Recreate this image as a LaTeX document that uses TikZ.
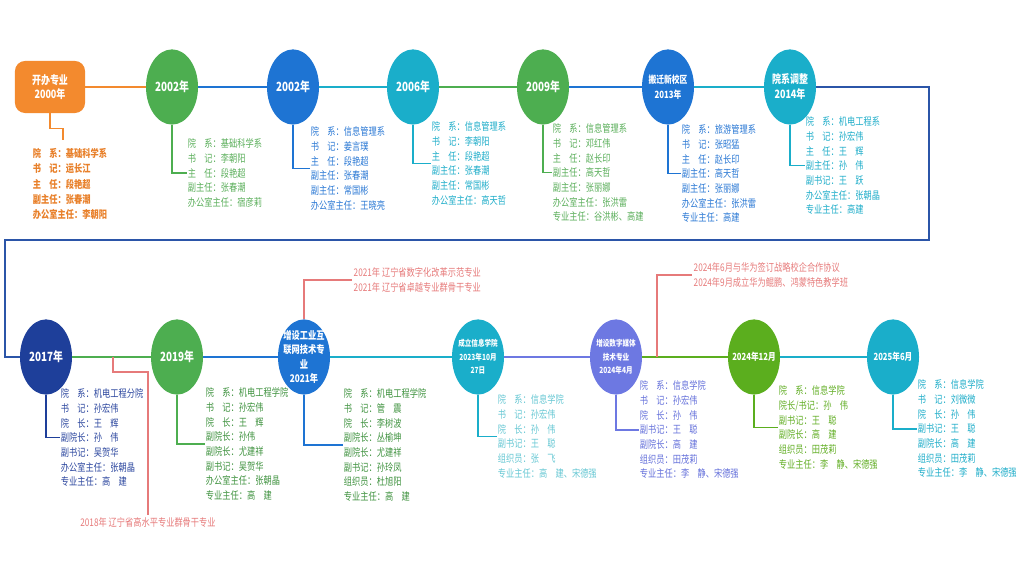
\documentclass[tikz,border=0pt]{standalone}
\usepackage{fontspec}
\setmainfont{Noto Sans CJK SC}[FakeStretch=0.78]
\usetikzlibrary{shapes.geometric}
\definecolor{orng}{HTML}{F38A2E}
\definecolor{grn}{HTML}{4DAE50}
\definecolor{blu}{HTML}{1E74D3}
\definecolor{cyn}{HTML}{1AAECA}
\definecolor{nvy}{HTML}{1E3F9A}
\definecolor{frm}{HTML}{2B55A8}
\definecolor{prp}{HTML}{6D78E2}
\definecolor{lim}{HTML}{5BAE1E}
\definecolor{rd}{HTML}{E67A7A}
\definecolor{orngtxt}{HTML}{E8802A}
\definecolor{grntxt}{HTML}{5AAE5A}
\definecolor{dgrntxt}{HTML}{3F923F}
\definecolor{blutxt}{HTML}{2A78D4}
\definecolor{cyntxt}{HTML}{1FADC9}
\definecolor{lcyntxt}{HTML}{66C7D3}
\definecolor{nvytxt}{HTML}{2B469E}
\definecolor{prptxt}{HTML}{6470DA}
\definecolor{limtxt}{HTML}{62AE25}

\begin{document}
\begin{tikzpicture}[x=0.025cm, y=-0.025cm,
    yearnode/.style={ellipse, fill=#1, minimum width=1.3cm, minimum height=1.88cm, inner sep=-4pt,
        text=white, align=center, font=\fontsize{9}{11}\selectfont\bfseries},
    infotext/.style={anchor=north west, inner sep=0.5pt, align=left, text=#1,
        font=\fontsize{7.5}{10.4}\selectfont},
    tline/.style={line width=1.5pt, draw=#1},
    elbow/.style={line width=1pt, draw=#1},
    remark/.style={text=rd, align=left, inner sep=1pt, font=\fontsize{7.5}{10.4}\selectfont}]
    \useasboundingbox (0,0) rectangle (1024,576);

    \node[fill=orng, rounded corners=0.25cm, minimum width=1.75cm, minimum height=1.3cm, inner sep=0pt,
        text=white, align=center, font=\fontsize{8.2}{10}\selectfont\bfseries] (kb) at (50,87) {开办专业\\2000年};
    \node[yearnode=grn] (e02a) at (172,87) {2002年};
    \node[yearnode=blu] (e02b) at (293,87) {2002年};
    \node[yearnode=cyn] (e06) at (413,87) {2006年};
    \node[yearnode=grn] (e09) at (543,87) {2009年};
    \node[yearnode=blu, font=\fontsize{7.1}{10.6}\selectfont\bfseries] (e13) at (668,87) {搬迁新校区\\2013年};
    \node[yearnode=cyn, font=\fontsize{8.2}{10.6}\selectfont\bfseries] (e14) at (790,87) {院系调整\\2014年};

    \node[yearnode=nvy] (e17) at (46,357) {2017年};
    \node[yearnode=grn] (e19) at (177,357) {2019年};
    \node[yearnode=blu, font=\fontsize{7.5}{10}\selectfont\bfseries] (e21) at (304,357) {增设工业互\\联网技术专\\业\\2021年};
    \node[yearnode=cyn, font=\fontsize{6}{9.5}\selectfont\bfseries] (e23) at (478,357) {成立信息学院\\2023年10月\\27日};
    \node[yearnode=prp, font=\fontsize{6}{9.5}\selectfont\bfseries] (e24a) at (616,357) {增设数字媒体\\技术专业\\2024年4月};
    \node[yearnode=lim, font=\fontsize{7}{9}\selectfont\bfseries] (e24b) at (754,357) {2024年12月};
    \node[yearnode=cyn, font=\fontsize{7}{9}\selectfont\bfseries] (e25) at (893,357) {2025年6月};

    \node[infotext=orngtxt, font=\fontsize{7.5}{11}\selectfont\bfseries] (t00) at (32,147)
        {院　系：基础科学系\\书　记：运长江\\主　任：段艳超\\副主任：张春潮\\办公室主任：李朝阳};
    \node[infotext=grntxt] (t02a) at (187,138)
        {院　系：基础科学系\\书　记：李朝阳\\主　任：段艳超\\副主任：张春潮\\办公室主任：宿彦莉};
    \node[infotext=blutxt] (t02b) at (310,126)
        {院　系：信息管理系\\书　记：姜言璞\\主　任：段艳超\\副主任：张春潮\\副主任：常国彬\\办公室主任：王晓亮};
    \node[infotext=cyntxt] (t06) at (431,121)
        {院　系：信息管理系\\书　记：李朝阳\\主　任：段艳超\\副主任：张春潮\\副主任：常国彬\\办公室主任：高天哲};
    \node[infotext=grntxt] (t09) at (552,123)
        {院　系：信息管理系\\书　记：邓红伟\\主　任：赵长印\\副主任：高天哲\\副主任：张丽娜\\办公室主任：张洪雷\\专业主任：谷洪彬、高建};
    \node[infotext=blutxt] (t13) at (681,124)
        {院　系：旅游管理系\\书　记：张昭猛\\主　任：赵长印\\副主任：高天哲\\副主任：张丽娜\\办公室主任：张洪雷\\专业主任：高建};
    \node[infotext=cyntxt] (t14) at (805,116)
        {院　系：机电工程系\\书　记：孙宏伟\\主　任：王　辉\\副主任：孙　伟\\副书记：王　跃\\办公室主任：张朝晶\\专业主任：高建};

    \node[infotext=nvytxt] (t17) at (60,388)
        {院　系：机电工程分院\\书　记：孙宏伟\\院　长：王　辉\\副院长：孙　伟\\副书记：吴贺华\\办公室主任：张朝晶\\专业主任：高　建};
    \node[infotext=dgrntxt] (t19) at (205,387)
        {院　系：机电工程学院\\书　记：孙宏伟\\院　长：王　辉\\副院长：孙伟\\副院长：尤建祥\\副书记：吴贺华\\办公室主任：张朝晶\\专业主任：高　建};
    \node[infotext=dgrntxt] (t21) at (343,388)
        {院　系：机电工程学院\\书　记：管　震\\院　长：李树波\\副院长：丛榆坤\\副院长：尤建祥\\副书记：孙玲凤\\组织员：杜旭阳\\专业主任：高　建};
    \node[infotext=lcyntxt] (t23) at (497,394)
        {院　系：信息学院\\书　记：孙宏伟\\院　长：孙　伟\\副书记：王　聪\\组织员：张　飞\\专业主任：高　建、宋德强};
    \node[infotext=prptxt] (t24a) at (639,380)
        {院　系：信息学院\\书　记：孙宏伟\\院　长：孙　伟\\副书记：王　聪\\副院长：高　建\\组织员：田茂莉\\专业主任：李　静、宋德强};
    \node[infotext=limtxt] (t24b) at (778,385)
        {院　系：信息学院\\院长/书记：孙　伟\\副书记：王　聪\\副院长：高　建\\组织员：田茂莉\\专业主任：李　静、宋德强};
    \node[infotext=cyntxt] (t25) at (917,379)
        {院　系：信息学院\\书　记：刘微微\\院　长：孙　伟\\副书记：王　聪\\副院长：高　建\\组织员：田茂莉\\专业主任：李　静、宋德强};

    \node[remark] (n18) at (148,522) {2018年 辽宁省高水平专业群骨干专业};
    \node[remark, anchor=west] (n21) at (352,280) {2021年 辽宁省数字化改革示范专业\\2021年 辽宁省卓越专业群骨干专业};
    \node[remark, anchor=west] (n24) at (692,275) {2024年6月与华为签订战略校企合作协议\\2024年9月成立华为鲲鹏、鸿蒙特色教学班};

    \coordinate (c1) at (929,240);
    \coordinate (c2) at (5,240);
    \coordinate (kbend) at (63,140);
    \coordinate (a18) at (113,357);
    \coordinate (a24) at (657,357);

    \draw[tline=orng] (kb.east) -- (e02a.west);
    \draw[tline=blu] (e02a.east) -- (e02b.west);
    \draw[tline=cyn] (e02b.east) -- (e06.west);
    \draw[tline=grn] (e06.east) -- (e09.west);
    \draw[tline=blu] (e09.east) -- (e13.west);
    \draw[tline=cyn] (e13.east) -- (e14.west);
    \draw[tline=frm] (e14.east) -| (c1) -- (c2) |- (e17.west);
    \draw[tline=grn] (e17.east) -- (e19.west);
    \draw[tline=blu] (e19.east) -- (e21.west);
    \draw[tline=cyn] (e21.east) -- (e23.west);
    \draw[tline=prp] (e23.east) -- (e24a.west);
    \draw[tline=lim] (e24a.east) -- (e24b.west);
    \draw[tline=cyn] (e24b.east) -- (e25.west);

    \draw[elbow=orng] (kb.south) -- ++(0,15) -| (kbend);
    \draw[elbow=grn] (e02a.south) |- (t02a.west);
    \draw[elbow=blu] (e02b.south) |- (t02b.west);
    \draw[elbow=cyn] (e06.south) |- (t06.west);
    \draw[elbow=grn] (e09.south) |- (t09.west);
    \draw[elbow=blu] (e13.south) |- (t13.west);
    \draw[elbow=cyn] (e14.south) |- (t14.west);
    \draw[elbow=nvy] (e17.south) |- (t17.west);
    \draw[elbow=grn] (e19.south) |- (t19.west);
    \draw[elbow=blu] (e21.south) |- (t21.west);
    \draw[elbow=cyn] (e23.south) |- (t23.west);
    \draw[elbow=prp] (e24a.south) |- (t24a.west);
    \draw[elbow=lim] (e24b.south) |- (t24b.west);
    \draw[elbow=cyn] (e25.south) |- (t25.west);

    \draw[elbow=rd] (a18) -- ++(0,15) -| (n18.north);
    \draw[elbow=rd] (e21.north) |- (n21.west);
    \draw[elbow=rd] (a24) |- (n24.west);
\end{tikzpicture}
\end{document}
